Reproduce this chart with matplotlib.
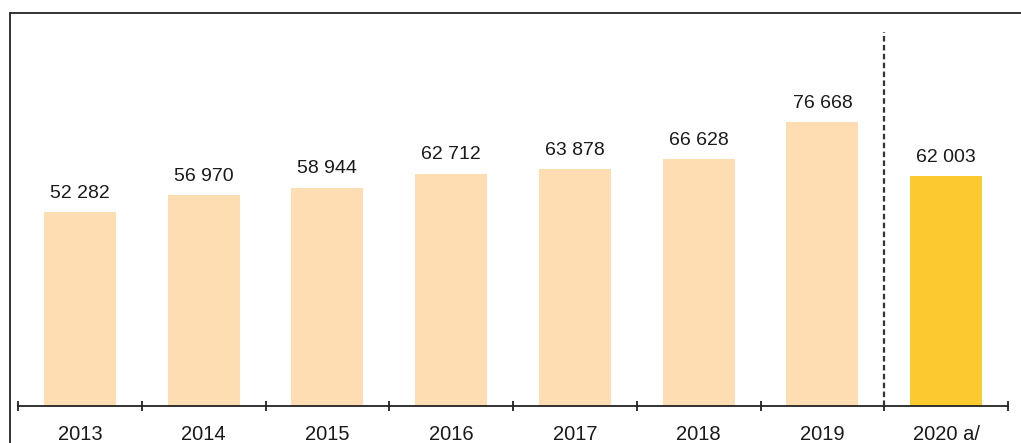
import matplotlib
matplotlib.use("Agg")
import matplotlib.pyplot as plt
from matplotlib.patches import Rectangle
import numpy as np

years = ["2013", "2014", "2015", "2016", "2017", "2018", "2019", "2020 a/"]
values = [52282, 56970, 58944, 62712, 63878, 66628, 76668, 62003]
labels = ["52 282", "56 970", "58 944", "62 712", "63 878", "66 628", "76 668", "62 003"]

PEACH = "#FEDDB3"
YELLOW = "#FCC92E"

plt.rcParams["font.family"] = ["Liberation Sans", "DejaVu Sans"]

W, H = 1021, 443
fig = plt.figure(figsize=(W / 100, H / 100), dpi=100)

# axes placed in pixel terms: x axis line from 18 to 1008 px, baseline at y=406
x0, x1 = 18 / W, 1008 / W
y_base = (H - 406) / H
y_top = (H - 20) / H
ax = fig.add_axes([x0, y_base, x1 - x0, y_top - y_base])

x = np.arange(len(years))
colors = [PEACH] * (len(years) - 1) + [YELLOW]
ax.bar(x, values, width=0.58, color=colors, zorder=2)

for xi, v, lab in zip(x, values, labels):
    ax.text(xi, v + 2800, lab, ha="center", va="bottom", fontsize=14, color="#1a1a1a")

ax.set_xlim(-0.5, len(years) - 0.5)
ax.set_ylim(0, 386 / 284 * 76668)

# dashed separator before the estimate
ax.axvline(len(years) - 1.5, ymin=0, ymax=(406 - 32) / 386, color="#333333",
           linestyle=(0, (2.5, 1.5)), linewidth=1.6, zorder=3)

for s in ["top", "right", "left"]:
    ax.spines[s].set_visible(False)
ax.spines["bottom"].set_linewidth(1.3)
ax.spines["bottom"].set_color("#222222")
ax.set_yticks([])

ax.set_xticks(np.arange(-0.5, len(years)), minor=False)
ax.set_xticklabels([])
ax.tick_params(axis="x", which="major", direction="inout", length=7, width=1.3, color="#222222")
ax.set_xticks(x, minor=True)
ax.set_xticklabels(years, minor=True, fontsize=14.5, color="#1a1a1a")
ax.tick_params(axis="x", which="minor", length=0, pad=14)

# outer frame (only left and top visible in the crop)
fig.patches.append(Rectangle((9.5 / W, -0.1), 1.2, (H - 12.5) / H + 0.1,
                             transform=fig.transFigure, fill=False,
                             edgecolor="#222222", linewidth=1.3))

fig.savefig("out.png", dpi=100)
